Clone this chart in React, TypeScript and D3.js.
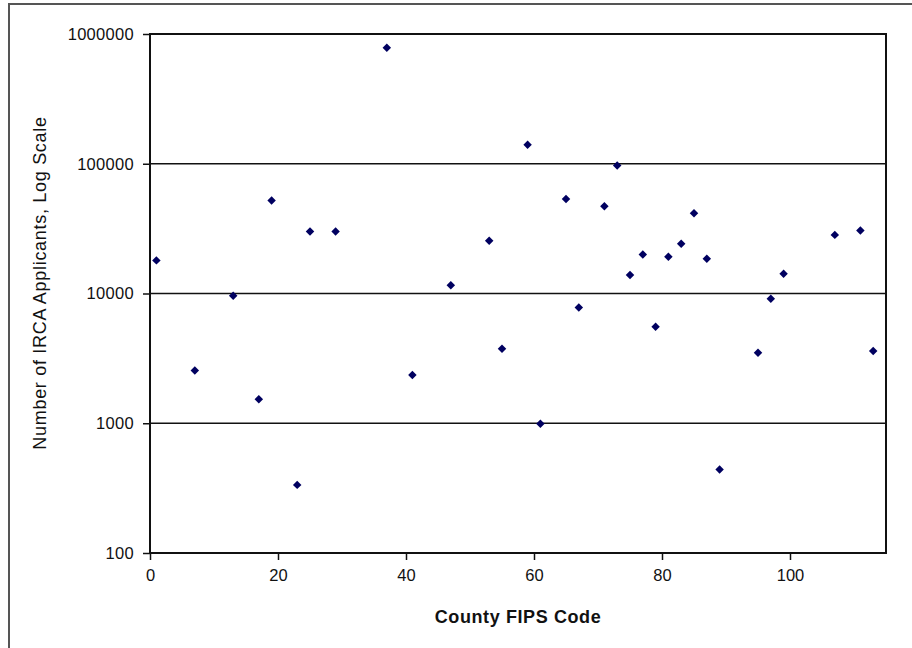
import React, { useRef, useEffect } from 'react';
import * as d3 from 'd3';

// County FIPS codes and number of IRCA applicants
const fipsCodes = [1, 7, 13, 17, 19, 23, 25, 29, 37, 41, 47, 53, 55, 59, 61, 65, 67, 71, 73, 75, 77, 79, 81, 83, 85, 87, 89, 95, 97, 99, 107, 111, 113];
const applicants = [18000, 2550, 9600, 1530, 52000, 335, 30000, 30000, 785000, 2350, 11600, 25500, 3750, 140000, 990, 53500, 7800, 47000, 97000, 13900, 20000, 5550, 19200, 24200, 41500, 18500, 440, 3500, 9100, 14200, 28300, 30600, 3600];

const yTicks = [100, 1000, 10000, 100000, 1000000];
const xTicks = [0, 20, 40, 60, 80, 100];

const W = 912;
const H = 648;
const margin = { top: 34, right: 26, bottom: 95, left: 150 };
const font = 'Liberation Sans, Arial, sans-serif';

export default function App() {
  const svgRef = useRef<SVGSVGElement>(null);

  useEffect(() => {
    const svgEl = d3.select(svgRef.current);
    svgEl.selectAll('*').remove();

    const width = W - margin.left - margin.right;
    const height = H - margin.top - margin.bottom;

    svgEl.append('rect').attr('width', W).attr('height', H).attr('fill', '#fff');

    // outer chart border (runs off the right and bottom edges)
    svgEl
      .append('rect')
      .attr('x', 9)
      .attr('y', 4)
      .attr('width', W + 20)
      .attr('height', H + 20)
      .attr('fill', 'none')
      .attr('stroke', '#555')
      .attr('stroke-width', 2);

    const xScale = d3.scaleLinear().domain([0, 115]).range([0, width]);
    const yScale = d3.scaleLog().domain([100, 1000000]).range([height, 0]);

    const svg = svgEl.append('g').attr('transform', `translate(${margin.left},${margin.top})`);

    // horizontal gridlines
    svg
      .selectAll('.grid')
      .data(yTicks.slice(1, -1))
      .enter()
      .append('line')
      .attr('x1', 0)
      .attr('x2', width)
      .attr('y1', (d) => yScale(d))
      .attr('y2', (d) => yScale(d))
      .attr('stroke', '#111')
      .attr('stroke-width', 1.5);

    // y axis
    const yAxis = d3
      .axisLeft(yScale)
      .tickValues(yTicks)
      .tickSize(7)
      .tickPadding(9)
      .tickFormat((d) => String(d));
    const yAxisGroup = svg.append('g').call(yAxis);
    yAxisGroup.select('.domain').remove();
    yAxisGroup.selectAll('line').attr('stroke', '#111').attr('stroke-width', 1.5);
    yAxisGroup
      .selectAll('text')
      .attr('font-size', '16.5px')
      .attr('font-family', font)
      .attr('letter-spacing', '0.3px')
      .attr('fill', '#111');

    // x axis
    const xAxis = d3
      .axisBottom(xScale)
      .tickValues(xTicks)
      .tickSize(7)
      .tickPadding(9)
      .tickFormat((d) => String(d));
    const xAxisGroup = svg.append('g').attr('transform', `translate(0, ${height})`).call(xAxis);
    xAxisGroup.select('.domain').remove();
    xAxisGroup.selectAll('line').attr('stroke', '#111').attr('stroke-width', 1.5);
    xAxisGroup
      .selectAll('text')
      .attr('font-size', '16.5px')
      .attr('font-family', font)
      .attr('fill', '#111');

    // plot frame
    svg
      .append('rect')
      .attr('width', width)
      .attr('height', height)
      .attr('fill', 'none')
      .attr('stroke', '#111')
      .attr('stroke-width', 2);

    // points
    const diamond = d3.symbol().type(d3.symbolSquare).size(36);
    svg
      .selectAll('.pt')
      .data(fipsCodes.map((f, i) => ({ x: f, y: applicants[i] })))
      .enter()
      .append('path')
      .attr('class', 'pt')
      .attr('d', diamond)
      .attr('transform', (d) => `translate(${xScale(d.x)},${yScale(d.y)}) rotate(45)`)
      .attr('fill', '#000060');

    // axis titles
    svgEl
      .append('text')
      .attr('x', 518)
      .attr('y', 623)
      .attr('text-anchor', 'middle')
      .attr('font-size', '18px')
      .attr('font-weight', 'bold')
      .attr('letter-spacing', '0.6px')
      .attr('font-family', font)
      .attr('fill', '#111')
      .text('County FIPS Code');

    svgEl
      .append('text')
      .attr('transform', 'translate(46, 283) rotate(-90)')
      .attr('text-anchor', 'middle')
      .attr('font-size', '18px')
      .attr('letter-spacing', '0.7px')
      .attr('font-family', font)
      .attr('fill', '#111')
      .text('Number of IRCA Applicants, Log Scale');
  }, []);

  return (
    <svg
      ref={svgRef}
      width={W}
      height={H}
      style={{ position: 'absolute', left: 0, top: 0 }}
    />
  );
}
